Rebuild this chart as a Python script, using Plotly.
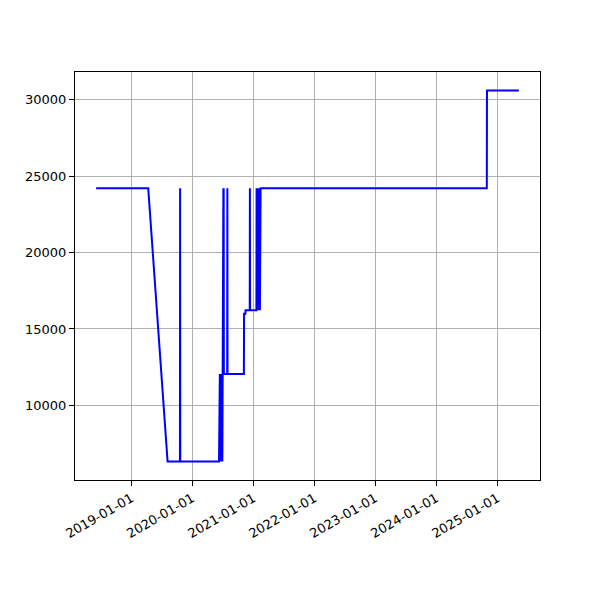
import pandas as pd
import plotly.graph_objects as go

dates = [
    "2018-06-04", "2019-04-12", "2019-08-06", "2019-10-19", "2019-10-20", "2019-10-21",
    "2020-06-09", "2020-06-10", "2020-06-12", "2020-06-14", "2020-06-17", "2020-06-20",
    "2020-06-23", "2020-06-26", "2020-06-29", "2020-07-01", "2020-07-04", "2020-07-05",
    "2020-07-06", "2020-07-07", "2020-07-08", "2020-07-28", "2020-07-29", "2020-07-30",
    "2020-11-05", "2020-11-06", "2020-11-14", "2020-11-15", "2020-12-10", "2020-12-11",
    "2020-12-12", "2021-01-19", "2021-01-20", "2021-01-22", "2021-01-25", "2021-01-28",
    "2021-01-31", "2021-02-03", "2021-02-06", "2021-02-09", "2021-02-13",
    "2024-10-30", "2024-10-31", "2025-05-10",
]
values = [
    24200, 24200, 6330, 6330, 24200, 6330,
    6330, 12050, 6330, 12050, 6330, 12050,
    6330, 12050, 6330, 12050, 12050, 24200,
    12050, 24200, 12050, 12050, 24200, 12050,
    12050, 16000, 16000, 16230, 16230, 24200,
    16230, 16230, 24200, 16230, 24200, 16230,
    24200, 16230, 24200, 16230, 24200,
    24200, 30600, 30600,
]
x_ticks = ["2019-01-01", "2020-01-01", "2021-01-01", "2022-01-01",
           "2023-01-01", "2024-01-01", "2025-01-01"]
y_ticks = [10000, 15000, 20000, 25000, 30000]

dt = pd.to_datetime(dates)
span = dt.max() - dt.min()
x_range = [dt.min() - span * 0.05, dt.max() + span * 0.05]
vmin, vmax = min(values), max(values)
vpad = (vmax - vmin) * 0.05
y_range = [vmin - vpad, vmax + vpad]

fig = go.Figure()
fig.add_trace(go.Scatter(x=dt, y=values, mode="lines",
                         line=dict(color="#0000ff", width=2), showlegend=False))

axis_common = dict(showline=True, linecolor="black", linewidth=1, mirror=True,
                   ticks="outside", ticklen=5, tickwidth=1, tickcolor="black",
                   showgrid=True, gridcolor="#b0b0b0", gridwidth=1, zeroline=False,
                   tickfont=dict(family="DejaVu Sans", size=13, color="black"))

fig.update_xaxes(range=x_range, tickmode="array", tickvals=pd.to_datetime(x_ticks),
                 ticktext=x_ticks, tickangle=-30, **axis_common)
fig.update_yaxes(range=y_range, tickmode="array", tickvals=y_ticks,
                 ticktext=[str(v) for v in y_ticks], **axis_common)

fig.update_layout(width=600, height=600, plot_bgcolor="white", paper_bgcolor="white",
                  margin=dict(l=67, r=68, t=64, b=128), autosize=False)

fig.write_html("out.html")
